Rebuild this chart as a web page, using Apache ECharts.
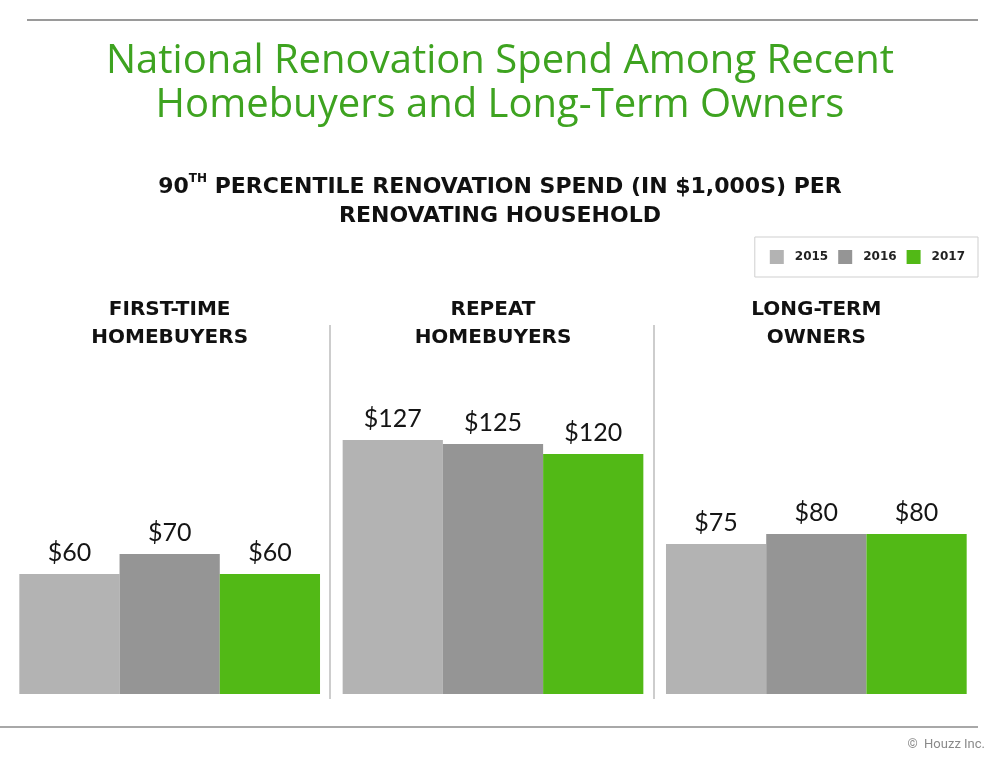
<!DOCTYPE html>
<html>
<head>
<meta charset="utf-8">
<script src="https://cdn.jsdelivr.net/npm/echarts@6/dist/echarts.min.js"></script>
<style>
  html, body { margin: 0; padding: 0; background: #fff; }
  #divChart { width: 1000px; height: 770px; }
</style>
</head>
<body>
<div id="divChart"></div>
<script>
"use strict";

var categories = ["FIRST-TIME\nHOMEBUYERS", "REPEAT\nHOMEBUYERS", "LONG-TERM\nOWNERS"];
var years = ["2015", "2016", "2017"];
var spend2015 = [60, 127, 75];
var spend2016 = [70, 125, 80];
var spend2017 = [60, 120, 80];
var yearColors = ["#b3b3b3", "#959595", "#52b916"];

var chart = echarts.init(document.getElementById("divChart"));

function makeSeries(name, data, color) {
    return {
        name: name,
        type: "bar",
        data: data,
        barGap: "0%",
        barCategoryGap: "7%",
        itemStyle: { color: color },
        label: {
            show: true,
            position: "top",
            distance: 9,
            formatter: "${c}",
            fontFamily: "Lato",
            fontSize: 25,
            color: "#151515"
        },
        emphasis: { disabled: true }
    };
}

var option = {
    backgroundColor: "#fff",
    animation: false,
    title: [{
        text: "National Renovation Spend Among Recent\nHomebuyers and Long-Term Owners",
        left: "center",
        top: 35,
        textStyle: { fontFamily: "Open Sans", fontWeight: "normal", fontSize: 40, lineHeight: 44, color: "#3ea320" }
    }, {
        text: "{a|90}{sup|TH}{a| PERCENTILE RENOVATION SPEND (IN $1,000S) PER}\n{a|RENOVATING HOUSEHOLD}",
        left: "center",
        top: 168,
        textStyle: {
            rich: {
                a: { fontFamily: "DejaVu Sans", fontWeight: "bold", fontSize: 22, lineHeight: 29, color: "#111" },
                sup: { fontFamily: "DejaVu Sans", fontWeight: "bold", fontSize: 12, lineHeight: 29, verticalAlign: "top", padding: [0, 0, 10, 0], color: "#111" }
            }
        }
    }],
    legend: {
        data: years,
        right: 22,
        top: 237,
        orient: "horizontal",
        borderColor: "#cfcfcf",
        borderWidth: 1,
        padding: [13, 13, 13, 15],
        itemWidth: 14,
        itemHeight: 14,
        itemGap: 10,
        icon: "rect",
        textStyle: { fontFamily: "DejaVu Sans", fontWeight: "bold", fontSize: 12, color: "#222", padding: [0, 0, 0, 6] }
    },
    grid: { left: 8, right: 22, top: 394, bottom: 76 },
    xAxis: {
        type: "category",
        data: categories,
        position: "top",
        axisLine: { show: false },
        axisTick: { show: false },
        axisLabel: {
            margin: 42,
            fontFamily: "DejaVu Sans",
            fontWeight: "bold",
            fontSize: 20,
            lineHeight: 28,
            color: "#111"
        }
    },
    yAxis: { type: "value", min: 0, max: 150, show: false },
    series: [
        makeSeries(years[0], spend2015, yearColors[0]),
        makeSeries(years[1], spend2016, yearColors[1]),
        makeSeries(years[2], spend2017, yearColors[2])
    ],
    graphic: [
        { type: "line", shape: { x1: 27, y1: 20, x2: 978, y2: 20 }, style: { stroke: "#9a9a9a", lineWidth: 2 } },
        { type: "line", shape: { x1: 0, y1: 727, x2: 978, y2: 727 }, style: { stroke: "#a8a8a8", lineWidth: 2 } },
        { type: "line", shape: { x1: 330, y1: 325, x2: 330, y2: 699 }, style: { stroke: "#cdcdcd", lineWidth: 2 } },
        { type: "line", shape: { x1: 654, y1: 325, x2: 654, y2: 699 }, style: { stroke: "#cdcdcd", lineWidth: 2 } },
        { type: "text", right: 15, top: 738, style: { text: "\u00a9  Houzz Inc.", fontFamily: "Roboto", fontSize: 13, fill: "#8a8a8a" } }
    ]
};

chart.setOption(option);
</script>
</body>
</html>
